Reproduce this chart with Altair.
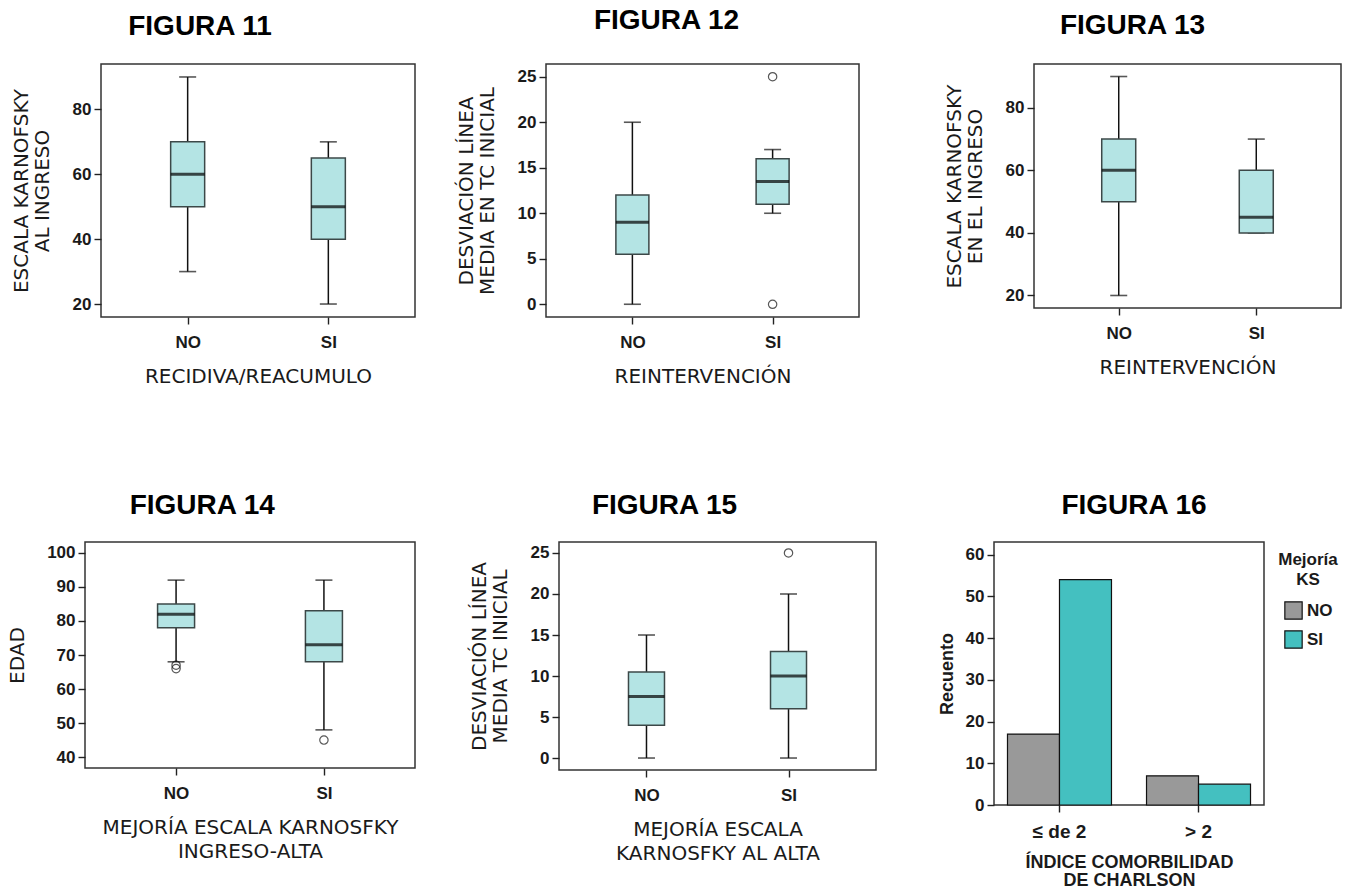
import altair as alt
import pandas as pd

CATS = ["NO", "SI"]

# ---------------- FIGURA 11 ----------------
f11_min = [30, 20]
f11_q1 = [50, 40]
f11_med = [60, 50]
f11_q3 = [70, 65]
f11_max = [90, 70]
f11_out_cat = []
f11_out_val = []
f11_ticks = [20, 40, 60, 80]

# ---------------- FIGURA 12 ----------------
f12_min = [0, 10]
f12_q1 = [5.5, 11]
f12_med = [9, 13.5]
f12_q3 = [12, 16]
f12_max = [20, 17]
f12_out_cat = ["SI", "SI"]
f12_out_val = [25, 0]
f12_ticks = [0, 5, 10, 15, 20, 25]

# ---------------- FIGURA 13 ----------------
f13_min = [20, 40]
f13_q1 = [50, 40]
f13_med = [60, 45]
f13_q3 = [70, 60]
f13_max = [90, 70]
f13_out_cat = []
f13_out_val = []
f13_ticks = [20, 40, 60, 80]

# ---------------- FIGURA 14 ----------------
f14_min = [68, 48]
f14_q1 = [78, 68]
f14_med = [82, 73]
f14_q3 = [85, 83]
f14_max = [92, 92]
f14_out_cat = ["NO", "NO", "SI"]
f14_out_val = [66, 67, 45]
f14_ticks = [40, 50, 60, 70, 80, 90, 100]

# ---------------- FIGURA 15 ----------------
f15_min = [0, 0]
f15_q1 = [4, 6]
f15_med = [7.5, 10]
f15_q3 = [10.5, 13]
f15_max = [15, 20]
f15_out_cat = ["SI"]
f15_out_val = [25]
f15_ticks = [0, 5, 10, 15, 20, 25]

# ---------------- FIGURA 16 ----------------
f16_groups = ["≤ de 2", "≤ de 2", "> 2", "> 2"]
f16_mejoria = ["NO", "SI", "NO", "SI"]
f16_count = [17, 54, 7, 5]
f16_ticks = [0, 10, 20, 30, 40, 50, 60]

NARROW = "Liberation Sans Narrow, Arial Narrow, Liberation Sans, sans-serif"
ARIAL = "Liberation Sans, Arial, sans-serif"
TFONT = "DejaVu Sans, Open Sans, sans-serif"
BOX_FILL = "#b4e4e4"
BOX_STROKE = "#3c4848"
GRAY = "#999999"
TEAL = "#44c0c0"


def spacer(w):
    d = pd.DataFrame({"a": [0]})
    return alt.Chart(d).mark_point(opacity=0).encode(
        x=alt.X("a:Q", axis=None), y=alt.Y("a:Q", axis=None)
    ).properties(width=w, height=1,
                 view=alt.ViewBackground(stroke="transparent", strokeWidth=0))


def box_panel(title, mins, q1s, meds, q3s, maxs, out_cat, out_val, ydom,
              yticks, ytitle, xtitle, w, h, box_w, cap_w, title_dx,
              title_offset=23, ytitle_pad=20):
    df = pd.DataFrame({"cat": CATS, "lo": mins, "q1": q1s, "med": meds,
                       "q3": q3s, "hi": maxs})
    xs = alt.Scale(type="point", domain=CATS, padding=0.616)
    ys = alt.Scale(domain=ydom, nice=False, zero=False)
    xax = alt.Axis(title=xtitle, labelAngle=0, labelPadding=10,
                   titlePadding=16, titleLineHeight=24)
    yax = alt.Axis(title=ytitle, values=yticks, labelPadding=3,
                   titlePadding=ytitle_pad, titleLineHeight=21)

    def X():
        return alt.X("cat:N", scale=xs, axis=xax)

    def Y(f):
        return alt.Y(f, type="quantitative", scale=ys, axis=yax)

    base = alt.Chart(df)
    whisk = base.mark_rule(color="#111111", strokeWidth=1.5).encode(
        x=X(), y=Y("lo"), y2="hi")
    cap_lo = base.mark_tick(color="#111111", size=cap_w, thickness=1.6).encode(
        x=X(), y=Y("lo"))
    cap_hi = base.mark_tick(color="#111111", size=cap_w, thickness=1.6).encode(
        x=X(), y=Y("hi"))
    box = base.mark_bar(size=box_w, fill=BOX_FILL, stroke=BOX_STROKE,
                        strokeWidth=1.5).encode(x=X(), y=Y("q1"), y2="q3")
    med = base.mark_tick(color="#000000", size=box_w, thickness=3).encode(
        x=X(), y=Y("med"))
    layers = [whisk, cap_lo, cap_hi, box, med]
    if out_val:
        odf = pd.DataFrame({"cat": out_cat, "v": out_val})
        layers.append(
            alt.Chart(odf).mark_point(shape="circle", filled=False, size=70,
                                      color="#111111", strokeWidth=1.2)
            .encode(x=X(), y=Y("v")))
    return alt.layer(*layers).properties(
        width=w, height=h,
        title=alt.TitleParams(title, dx=title_dx, offset=title_offset))


p11 = box_panel("FIGURA 11", f11_min, f11_q1, f11_med, f11_q3, f11_max,
                f11_out_cat, f11_out_val, [16, 94], f11_ticks,
                ["ESCALA KARNOFSKY", "AL INGRESO"], "RECIDIVA/REACUMULO",
                314, 253, 34, 17, -13, title_offset=23)
p12 = box_panel("FIGURA 12", f12_min, f12_q1, f12_med, f12_q3, f12_max,
                f12_out_cat, f12_out_val, [-1.4, 26.4], f12_ticks,
                ["DESVIACIÓN LÍNEA", "MEDIA EN TC INICIAL"], "REINTERVENCIÓN",
                313, 253, 33, 17, 9, title_offset=29)
p13 = box_panel("FIGURA 13", f13_min, f13_q1, f13_med, f13_q3, f13_max,
                f13_out_cat, f13_out_val, [16, 94], f13_ticks,
                ["ESCALA KARNOFSKY", "EN EL INGRESO"], "REINTERVENCIÓN",
                307, 244, 34, 17, -10, title_offset=24)
p14 = box_panel("FIGURA 14", f14_min, f14_q1, f14_med, f14_q3, f14_max,
                f14_out_cat, f14_out_val, [36.8, 103.2], f14_ticks,
                "EDAD", ["MEJORÍA ESCALA KARNOSFKY", "INGRESO-ALTA"],
                330, 226, 37, 17, -9, title_offset=22, ytitle_pad=19)
p15 = box_panel("FIGURA 15", f15_min, f15_q1, f15_med, f15_q3, f15_max,
                f15_out_cat, f15_out_val, [-1.46, 26.34], f15_ticks,
                ["DESVIACIÓN LÍNEA", "MEDIA TC INICIAL"],
                ["MEJORÍA ESCALA", "KARNOSFKY AL ALTA"],
                317, 228, 36, 17, -8, title_offset=22)

df16 = pd.DataFrame({"grp": f16_groups, "mej": f16_mejoria, "n": f16_count})
p16 = alt.Chart(df16).mark_bar(stroke="#111111", strokeWidth=1.2).encode(
    x=alt.X("grp:N", sort=["≤ de 2", "> 2"],
            scale=alt.Scale(paddingInner=0.252, paddingOuter=0.097),
            axis=alt.Axis(title=["ÍNDICE COMORBILIDAD", "DE CHARLSON"],
                          labelAngle=0, labelFont=ARIAL, labelFontSize=19,
                          labelFontWeight="bold", labelPadding=10,
                          titleFont=ARIAL, titleFontWeight="bold",
                          titleFontSize=18, titleLineHeight=18,
                          titlePadding=12)),
    xOffset=alt.XOffset("mej:N", sort=["NO", "SI"],
                        scale=alt.Scale(paddingInner=0, paddingOuter=0)),
    y=alt.Y("n:Q", scale=alt.Scale(domain=[0, 63], nice=False),
            axis=alt.Axis(title="Recuento", values=f16_ticks, labelPadding=3,
                          titleFont=ARIAL, titleFontWeight="bold",
                          titleFontSize=18, titlePadding=9)),
    color=alt.Color("mej:N", scale=alt.Scale(domain=["NO", "SI"],
                                             range=[GRAY, TEAL]),
                    legend=alt.Legend(title=["Mejoría", "KS"],
                                      orient="none", legendX=284, legendY=10,
                                      symbolType="square", symbolSize=300,
                                      symbolStrokeColor="#111111",
                                      symbolStrokeWidth=1.2,
                                      titleFont=ARIAL, titleFontSize=17,
                                      titleFontWeight="bold",
                                      titleAnchor="middle", titleAlign="center",
                                      titleLineHeight=20, titlePadding=12,
                                      labelFont=ARIAL, labelFontSize=17,
                                      labelFontWeight="bold",
                                      rowPadding=6)),
).properties(width=270, height=263,
             title=alt.TitleParams("FIGURA 16", dx=-4, offset=22))

row1 = alt.hconcat(
    alt.hconcat(alt.hconcat(spacer(10), p11, spacing=0), p12, spacing=39),
    p13, spacing=83).resolve_scale(color="independent")
row2 = alt.hconcat(
    alt.hconcat(alt.hconcat(spacer(6), p14, spacing=0), p15, spacing=52),
    p16, spacing=60).resolve_scale(color="independent")

chart = alt.vconcat(row1, row2, spacing=104).resolve_scale(
    color="independent").properties(
    padding={"left": 0, "top": 6, "right": 0, "bottom": 0}
).configure_view(
    stroke="#333333", strokeWidth=1.5
).configure_axis(
    domain=False, grid=False, ticks=True, tickColor="#222222", tickWidth=1.4,
    tickSize=7, labelFont=NARROW, labelFontWeight="bold", labelFontSize=17,
    labelColor="#1a1a1a", titleFont=TFONT, titleFontWeight="normal",
    titleFontSize=20, titleColor="#1a1a1a"
).configure_title(
    font=ARIAL, fontWeight="bold", fontSize=28, color="#000000",
    anchor="middle", frame="bounds"
).configure_legend(
    labelColor="#1a1a1a", titleColor="#1a1a1a"
)

chart.save("out.html", embed_options={"renderer": "svg", "actions": False})
